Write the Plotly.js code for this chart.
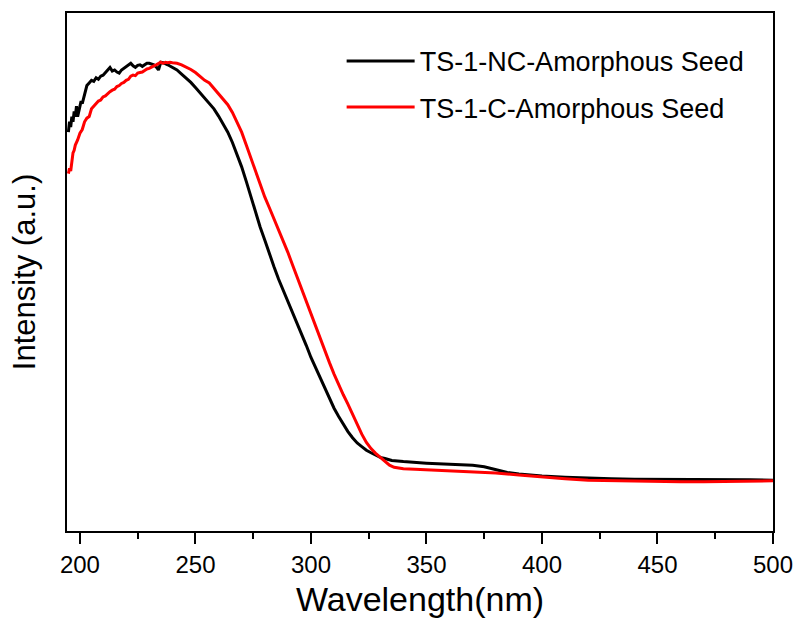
<!DOCTYPE html>
<html>
<head>
<meta charset="utf-8">
<script src="https://cdn.plot.ly/plotly-3.0.1.min.js"></script>
<style>html,body{margin:0;padding:0;background:#fff;}#chart{width:798px;height:630px;}</style>
</head>
<body>
<div id="chart"></div>
<script>
// Wavelength (nm) and intensity (a.u.)
const wlNC = [195,195.5,196,196.5,197,197.5,198,198.5,199,199.5,200,200.5,201,202,203,204,205,206,207,208,209,210,211,212,213,214,215,216,217,218,219,220,221,222,223,224,225,226,227,228,229,230,231,232,233,234,235,236,238,240,242,244,246,248,250,252,254,256,258,260,262,264,266,268,270,272,274,276,278,280,282,284,286,288,290,292,294,296,298,300,302,304,306,308,310,312,314,316,318,320,322,324,326,328,330,332,335,340,345,350,355,360,365,370,375,380,385,390,395,400,410,420,430,440,450,460,470,480,490,500];
const intNC = [0.77,0.79,0.78,0.80,0.79,0.81,0.80,0.82,0.80,0.81,0.815,0.83,0.825,0.845,0.86,0.865,0.87,0.868,0.875,0.872,0.878,0.88,0.885,0.89,0.895,0.888,0.89,0.886,0.884,0.89,0.893,0.896,0.90,0.903,0.898,0.895,0.899,0.90,0.897,0.90,0.903,0.903,0.902,0.90,0.896,0.89,0.905,0.904,0.90,0.895,0.89,0.882,0.874,0.866,0.856,0.846,0.836,0.826,0.815,0.801,0.786,0.770,0.750,0.727,0.703,0.675,0.645,0.614,0.587,0.562,0.535,0.510,0.486,0.465,0.445,0.423,0.401,0.380,0.358,0.335,0.315,0.295,0.275,0.255,0.237,0.221,0.206,0.192,0.180,0.170,0.163,0.156,0.151,0.146,0.142,0.140,0.136,0.134,0.132,0.131,0.130,0.129,0.128,0.127,0.124,0.118,0.113,0.110,0.108,0.106,0.104,0.102,0.101,0.100,0.100,0.099,0.099,0.099,0.099,0.098];

const wlC = [195,195.5,196,196.5,197,197.5,198,199,200,201,202,203,204,205,206,207,208,209,210,211,212,213,214,215,216,217,218,219,220,221,222,223,224,225,226,227,228,229,230,231,232,233,234,235,236,237,238,239,240,242,244,246,248,250,252,254,256,258,260,262,264,266,268,270,272,274,276,278,280,282,284,286,288,290,292,294,296,298,300,302,304,306,308,310,312,314,316,318,320,322,324,326,328,330,332,334,336,340,345,350,360,370,375,380,390,400,410,420,430,440,450,460,470,480,490,500];
const intC = [0.69,0.70,0.695,0.715,0.73,0.735,0.745,0.755,0.768,0.775,0.79,0.797,0.80,0.815,0.82,0.823,0.83,0.832,0.838,0.84,0.845,0.848,0.851,0.853,0.858,0.86,0.864,0.866,0.870,0.872,0.878,0.880,0.879,0.884,0.885,0.886,0.889,0.892,0.893,0.896,0.898,0.900,0.902,0.905,0.903,0.905,0.904,0.905,0.904,0.903,0.900,0.896,0.891,0.885,0.877,0.870,0.865,0.855,0.845,0.834,0.823,0.808,0.790,0.770,0.745,0.720,0.693,0.668,0.645,0.624,0.603,0.582,0.560,0.538,0.514,0.490,0.467,0.443,0.418,0.395,0.372,0.348,0.325,0.303,0.282,0.263,0.245,0.225,0.206,0.187,0.171,0.159,0.150,0.142,0.134,0.127,0.123,0.120,0.119,0.118,0.117,0.115,0.114,0.112,0.108,0.104,0.101,0.098,0.097,0.096,0.095,0.095,0.095,0.096,0.096,0.097];

const seriesNames = ["TS-1-NC-Amorphous Seed", "TS-1-C-Amorphous Seed"];
const seriesColors = ["#000000", "#ff0000"];

const FONT = "Liberation Sans, Arial, sans-serif";

const traces = [
  {x: wlNC, y: intNC, name: seriesNames[0], type: "scatter", mode: "lines",
   line: {color: seriesColors[0], width: 3}, legendgroup: "a"},
  {x: wlC, y: intC, name: seriesNames[1], type: "scatter", mode: "lines",
   line: {color: seriesColors[1], width: 3}, legendgroup: "b"}
];

const layout = {
  width: 798, height: 630,
  paper_bgcolor: "#ffffff", plot_bgcolor: "#ffffff",
  margin: {l: 67, r: 25, t: 13, b: 99},
  font: {family: FONT, color: "#000"},
  showlegend: true,
  legend: {
    x: 0.389, y: 0.954, xanchor: "left", yanchor: "top",
    font: {family: FONT, size: 27, color: "#000"},
    bgcolor: "rgba(0,0,0,0)", borderwidth: 0,
    itemwidth: 68, traceorder: "grouped", tracegroupgap: 8
  },
  xaxis: {
    range: [194.4, 500], showgrid: false, zeroline: false,
    showline: true, mirror: true, linecolor: "#000", linewidth: 2,
    ticks: "outside", tick0: 200, dtick: 50, ticklen: 11, tickwidth: 2, tickcolor: "#000",
    minor: {ticks: "outside", dtick: 25, tick0: 200, ticklen: 6, tickwidth: 2, tickcolor: "#000", showgrid: false},
    tickfont: {family: FONT, size: 24, color: "#000"},
    title: {text: "Wavelength(nm)", font: {family: FONT, size: 34, color: "#000"}, standoff: 10}
  },
  yaxis: {
    range: [0, 1], showgrid: false, zeroline: false,
    showline: true, mirror: true, linecolor: "#000", linewidth: 2,
    ticks: "", showticklabels: false,
    title: {text: "Intensity (a.u.)", font: {family: FONT, size: 31, color: "#000"}, standoff: 20}
  }
};

Plotly.newPlot("chart", traces, layout, {staticPlot: true, displayModeBar: false});
</script>
</body>
</html>
